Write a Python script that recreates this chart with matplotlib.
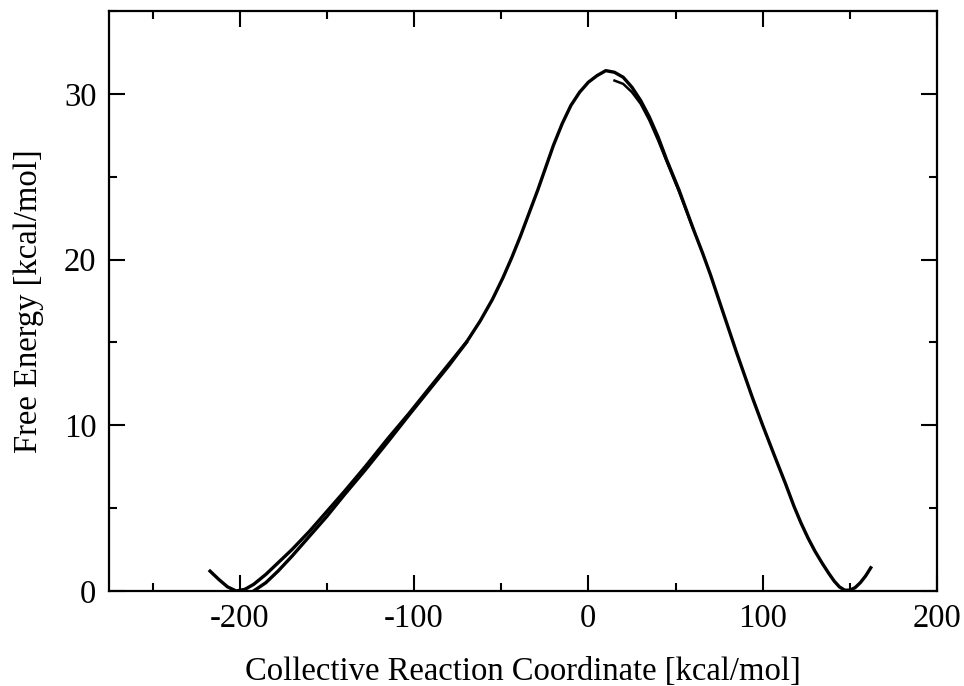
import matplotlib
matplotlib.use("Agg")
import matplotlib.pyplot as plt
import matplotlib.ticker as ticker

# free energy profile in pieces (overlapping windows)
x_left = [-217, -212, -207, -202, -197, -192, -185, -178, -170, -160, -150,
          -140, -128, -115, -103, -90, -80, -70]
y_left = [1.2, 0.7, 0.25, 0.0, 0.1, 0.4, 1.0, 1.7, 2.5, 3.6, 4.8,
          6.0, 7.5, 9.2, 10.7, 12.4, 13.7, 15.0]

x_main = [-192, -185, -178, -170, -160, -150, -140, -128, -115, -103, -90,
          -80, -70, -62, -55, -49, -44, -39, -34, -29, -25, -20, -15, -10, -5,
          0, 5, 10, 15, 20, 25, 30, 35, 40, 45, 52, 60, 65.5, 70, 77, 85,
          94, 100, 107, 113, 118, 122, 126, 130, 134, 138, 141, 144, 147,
          150, 153, 156, 159, 162]
y_main = [0.0, 0.5, 1.2, 2.1, 3.3, 4.5, 5.8, 7.3, 9.0, 10.6, 12.3,
          13.6, 15.0, 16.3, 17.6, 18.9, 20.1, 21.4, 22.8, 24.2, 25.4, 26.9, 28.2, 29.3, 30.1,
          30.7, 31.1, 31.4, 31.3, 31.0, 30.4, 29.6, 28.6, 27.4, 26.0, 24.2, 21.9, 20.4, 19.1, 16.9, 14.4,
          11.7, 10.0, 8.1, 6.5, 5.1, 4.1, 3.2, 2.4, 1.7, 1.05, 0.6, 0.25, 0.05,
          0.05, 0.2, 0.5, 0.9, 1.4]

x_right = [15, 20, 25, 30, 35, 40, 45, 52, 60]
y_right = [30.8, 30.6, 30.1, 29.4, 28.4, 27.2, 25.9, 24.1, 21.9]

plt.rcParams['font.family'] = ['Liberation Serif', 'DejaVu Serif']
plt.rcParams['axes.unicode_minus'] = False

fig = plt.figure(figsize=(9.64, 6.86), dpi=100)
ax = fig.add_axes([0.113, 0.1385, 0.859, 0.8455])

ax.plot(x_left, y_left, color='black', lw=2.4)
ax.plot(x_main, y_main, color='black', lw=2.4)
ax.plot(x_right, y_right, color='black', lw=1.8)

ax.set_xlim(-275, 200)
ax.set_ylim(0, 35)
ax.xaxis.set_major_locator(ticker.MultipleLocator(100))
ax.xaxis.set_minor_locator(ticker.MultipleLocator(50))
ax.yaxis.set_major_locator(ticker.MultipleLocator(10))
ax.yaxis.set_minor_locator(ticker.MultipleLocator(5))
ax.tick_params(which='both', direction='in', top=True, right=True, width=1.5,
               labelsize=23.5)
ax.tick_params(which='major', length=11.5, pad=9)
ax.tick_params(which='minor', length=6)
for s in ax.spines.values():
    s.set_linewidth(1.6)

ax.set_xlabel('Collective Reaction Coordinate [kcal/mol]', fontsize=23.5, labelpad=16)
ax.set_ylabel('Free Energy [kcal/mol]', fontsize=23.5, labelpad=14)

fig.savefig('out.png', dpi=100)
